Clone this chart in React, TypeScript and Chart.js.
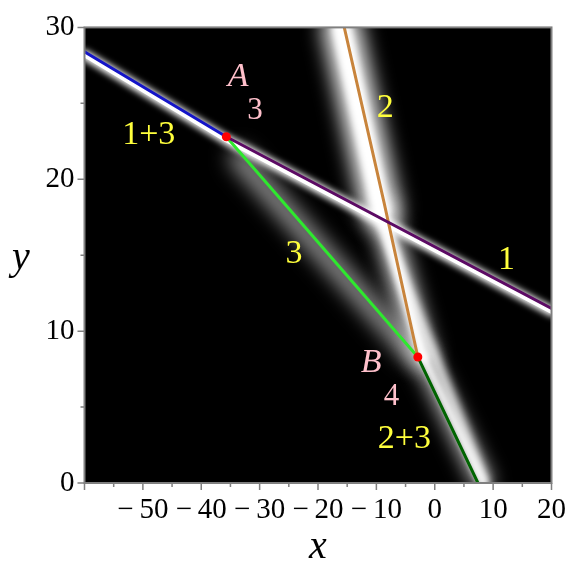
import React, { useEffect, useRef } from 'react';
import { Chart, registerables } from 'chart.js';

Chart.register(...registerables);

// ---- axes ----
const X_MIN = -60;
const X_MAX = 20;
const Y_MIN = 0;
const Y_MAX = 30;
const TICK_STEP = 5;
const LABEL_STEP = 10;

// ---- coloured curves ----
const line1BlueX = [-60, -35.7];
const line1BlueY = [28.4, 22.8];
const line1PurpleX = [-35.7, 20];
const line1PurpleY = [22.8, 11.5];
const line2X = [-15.5, -8.7, -2.9];
const line2Y = [30, 18.5, 8.3];
const line3X = [-35.7, -2.9];
const line3Y = [22.8, 8.3];
const line23X = [-2.9, 7.4];
const line23Y = [8.3, 0];
const pointX = [-35.7, -2.9];
const pointY = [22.8, 8.3];

// ---- white glow bands (density background) ----
const glow1X = [-60, -35.7, 20];
const glow1Y = [28.2, 22.6, 11.3];
const glow2X = [-16.0, -9.2, -2.0, 8.3];
const glow2Y = [30, 18, 8.3, 0];
const glow3X = [-33.5, -4];
const glow3Y = [21.4, 8.6];
const glow23X = [-9, 8.6];
const glow23Y = [17, 0];

// ---- annotations ----
const labelTexts = ['1+3', '2', '3', '1', '2+3'];
const labelX = [-49, -8.5, -24.1, 12.3, -5.2];
const labelY = [22.9, 24.7, 15.05, 14.7, 2.9];
const pointNames = ['A', 'B'];
const pointNameX = [-33.7, -10.9];
const pointNameY = [26.7, 7.9];
const pointSubs = ['3', '4'];
const pointSubX = [-30.8, -7.4];
const pointSubY = [24.5, 5.65];

const glow2WideWidths = [38, 22, 15];
const glow2CoreWidths = [18, 10, 7];

const zip = (xs: number[], ys: number[]) => xs.map((x, i) => ({ x, y: ys[i] }));

const SERIF = '"Liberation Serif", "Times New Roman", serif';

const decorPlugin = {
  id: 'decor',
  beforeDatasetsDraw(chart: any) {
    const { ctx, chartArea: a } = chart;
    ctx.save();
    ctx.fillStyle = '#000000';
    ctx.fillRect(a.left, a.top, a.right - a.left, a.bottom - a.top);
    ctx.restore();
  },
  beforeDatasetDraw(chart: any, args: any) {
    const ds = chart.data.datasets[args.index];
    if (ds.glowBlur) {
      chart.ctx.save();
      chart.ctx.filter = `blur(${ds.glowBlur}px)`;
    }
  },
  afterDatasetDraw(chart: any, args: any) {
    const ds = chart.data.datasets[args.index];
    if (ds.glowBlur) chart.ctx.restore();
  },
  afterDatasetsDraw(chart: any) {
    const { ctx } = chart;
    const xs = chart.scales.x;
    const ys = chart.scales.y;
    ctx.save();
    ctx.textAlign = 'center';
    ctx.textBaseline = 'middle';
    ctx.fillStyle = '#ffff3c';
    ctx.font = `34px ${SERIF}`;
    labelTexts.forEach((t, i) => {
      ctx.fillText(t, xs.getPixelForValue(labelX[i]), ys.getPixelForValue(labelY[i]));
    });
    ctx.fillStyle = '#ffc0cb';
    ctx.font = `italic 34px ${SERIF}`;
    pointNames.forEach((t, i) => {
      ctx.fillText(t, xs.getPixelForValue(pointNameX[i]), ys.getPixelForValue(pointNameY[i]));
    });
    ctx.font = `31px ${SERIF}`;
    pointSubs.forEach((t, i) => {
      ctx.fillText(t, xs.getPixelForValue(pointSubX[i]), ys.getPixelForValue(pointSubY[i]));
    });
    ctx.restore();
  },
  afterDraw(chart: any) {
    const { ctx, chartArea: a } = chart;
    const xs = chart.scales.x;
    const ys = chart.scales.y;
    ctx.save();
    ctx.strokeStyle = '#808080';
    ctx.lineWidth = 1.5;
    ctx.beginPath();
    for (let v = X_MIN; v <= X_MAX; v += TICK_STEP) {
      const p = xs.getPixelForValue(v);
      const len = v % LABEL_STEP === 0 ? 7 : 4;
      ctx.moveTo(p, a.bottom);
      ctx.lineTo(p, a.bottom + len);
    }
    for (let v = Y_MIN; v <= Y_MAX; v += TICK_STEP) {
      const p = ys.getPixelForValue(v);
      const len = v % LABEL_STEP === 0 ? 7 : 4;
      ctx.moveTo(a.left, p);
      ctx.lineTo(a.left - len, p);
    }
    ctx.stroke();
    ctx.lineWidth = 2;
    ctx.strokeRect(a.left, a.top, a.right - a.left, a.bottom - a.top);
    ctx.fillStyle = '#000';
    ctx.font = `italic 40px ${SERIF}`;
    ctx.textAlign = 'center';
    ctx.textBaseline = 'middle';
    ctx.fillText('x', (a.left + a.right) / 2, a.bottom + 64);
    ctx.fillText('y', 21, (a.top + a.bottom) / 2 + 3);
    ctx.restore();
  },
};

export default function App() {
  const ref = useRef<HTMLCanvasElement | null>(null);
  useEffect(() => {
    document.body.style.margin = '0';
    const canvas = ref.current;
    if (!canvas) return;
    const lineDs = (xs: number[], ys: number[], color: string, width: number, order: number) => ({
      data: zip(xs, ys),
      showLine: true,
      borderColor: color,
      borderWidth: width,
      pointRadius: 0,
      borderCapStyle: 'round',
      borderJoinStyle: 'round',
      tension: 0,
      order,
    });
    const chart = new Chart(canvas, {
      type: 'scatter',
      data: {
        datasets: [
          { ...lineDs(glow2X, glow2Y, 'rgba(235,235,235,1)', 20, 20), glowBlur: 10,
            segment: { borderWidth: (c: any) => glow2WideWidths[c.p0DataIndex] } } as any,
          { ...lineDs(glow3X, glow3Y, 'rgba(210,210,210,0.7)', 20, 19), glowBlur: 10 } as any,
          { ...lineDs(glow23X, glow23Y, 'rgba(255,255,255,0.85)', 9, 18), glowBlur: 4 } as any,
          { ...lineDs(glow2X, glow2Y, '#ffffff', 10, 17), glowBlur: 3,
            segment: { borderWidth: (c: any) => glow2CoreWidths[c.p0DataIndex] } } as any,
          { ...lineDs(glow1X, glow1Y, 'rgba(255,255,255,1)', 10, 16), glowBlur: 3 } as any,
          { ...lineDs(glow1X, glow1Y, '#ffffff', 5, 15) } as any,
          lineDs(line1BlueX, line1BlueY, '#1414c8', 3, 5) as any,
          lineDs(line1PurpleX, line1PurpleY, '#5c0a64', 3, 5) as any,
          lineDs(line2X, line2Y, '#c8843c', 3, 5) as any,
          lineDs(line3X, line3Y, '#2ee82e', 3, 5) as any,
          lineDs(line23X, line23Y, '#006400', 3, 5) as any,
          {
            data: zip(pointX, pointY),
            pointRadius: 4.5,
            pointBackgroundColor: '#ff0000',
            pointBorderColor: '#ff0000',
            pointBorderWidth: 0,
            showLine: false,
            order: 1,
          } as any,
        ],
      },
      options: {
        animation: false,
        responsive: false,
        devicePixelRatio: 1,
        layout: { padding: { top: 23, right: 22, left: 0, bottom: 0 } },
        plugins: { legend: { display: false }, tooltip: { enabled: false } },
        scales: {
          x: {
            type: 'linear',
            min: X_MIN,
            max: X_MAX,
            grid: { display: false, drawTicks: false },
            border: { display: false },
            afterFit: (s: any) => { s.height = 95; },
            ticks: {
              stepSize: TICK_STEP,
              autoSkip: false,
              maxRotation: 0,
              padding: 10,
              color: '#000',
              font: { family: SERIF, size: 29, lineHeight: 1.2 },
              callback: (v: any) => {
                const n = Number(v);
                if (n % LABEL_STEP !== 0 || n === X_MIN) return '';
                return n < 0 ? '\u2212\u2009' + Math.abs(n) : String(n);
              },
            },
          },
          y: {
            type: 'linear',
            min: Y_MIN,
            max: Y_MAX,
            grid: { display: false, drawTicks: false },
            border: { display: false },
            afterFit: (s: any) => { s.width = 84.5; },
            ticks: {
              stepSize: TICK_STEP,
              autoSkip: false,
              padding: 10,
              color: '#000',
              font: { family: SERIF, size: 29, lineHeight: 1.2 },
              callback: (v: any) => {
                const n = Number(v);
                return n % LABEL_STEP === 0 ? String(n) : '';
              },
            },
          },
        },
      },
      plugins: [decorPlugin],
    } as any);
    return () => chart.destroy();
  }, []);
  return <canvas ref={ref} width={576} height={578} style={{ display: 'block' }} />;
}
